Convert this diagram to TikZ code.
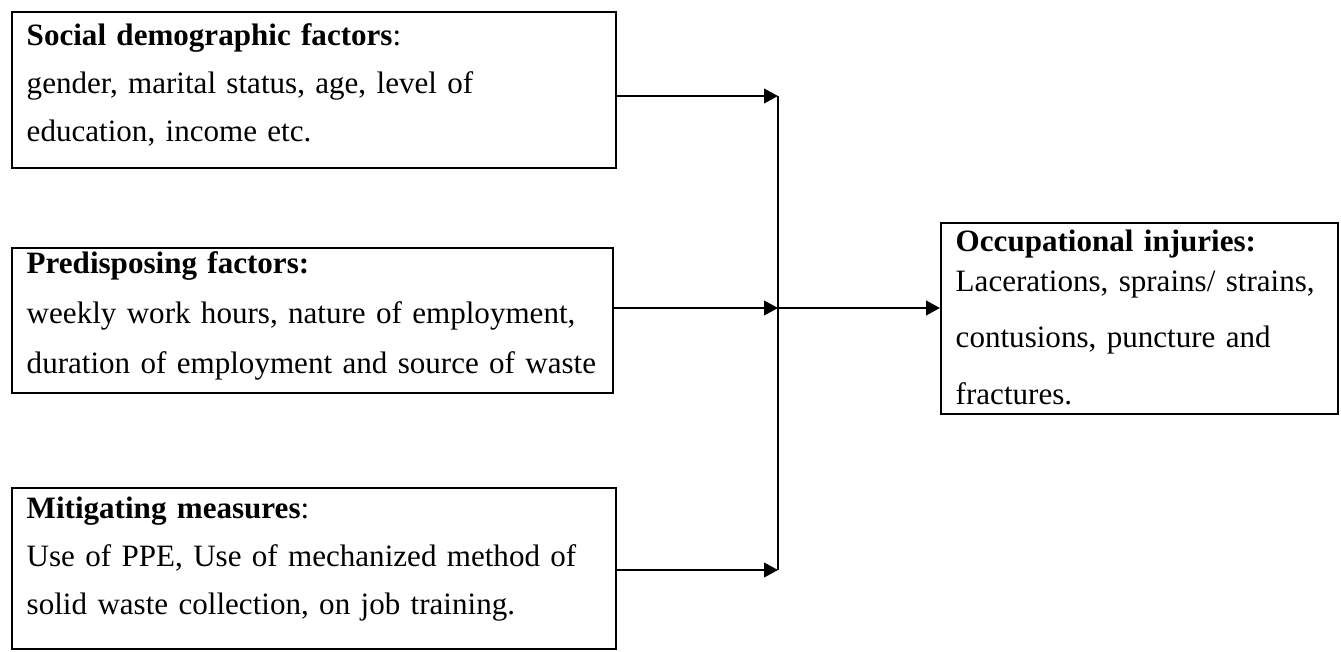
\documentclass[tikz,border=0pt]{standalone}
\usepackage{fontspec}
\setmainfont{Liberation Serif}
\usepackage{tikz}
\usetikzlibrary{arrows.meta,positioning,calc}

\tikzset{
  factorbox/.style={draw, line width=1.6pt, anchor=north west, align=left,
    inner xsep=11pt, inner ysep=0pt, font=\fontsize{23.3}{36}\selectfont},
  flowline/.style={line width=1.5pt, -{Triangle[length=10.5pt,width=11pt]}}
}

\begin{document}
\begin{tikzpicture}[x=0.75pt,y=-0.75pt]
    \useasboundingbox (0,0) rectangle (1341,652);

    % factor boxes on the left
    \node[factorbox, text width=431pt, minimum height=117pt] (social) at (11,11)
        {\rule{0pt}{24.75pt}\textbf{Social demographic factors}:\\
         gender, marital status, age, level of\\
         education, income etc.\rule[-20.25pt]{0pt}{0pt}};
    \node[factorbox, text width=428.75pt, minimum height=108.75pt,
          font=\fontsize{23.3}{37.5}\selectfont] (predisp) at (11,247)
        {\rule{0pt}{18.75pt}\textbf{Predisposing factors:}\\
         \mbox{weekly work hours, nature of employment,}\\
         \mbox{duration of employment and source of waste}\rule[-15pt]{0pt}{0pt}};
    \node[factorbox, text width=431pt, minimum height=120.75pt] (mitig) at (11,487)
        {\rule{0pt}{22.5pt}\textbf{Mitigating measures}:\\
         \mbox{Use of PPE, Use of mechanized method of}\\
         solid waste collection, on job training.\rule[-26.25pt]{0pt}{0pt}};

    % outcome box
    \node[factorbox, text width=275.75pt, minimum height=143.25pt,
          font=\fontsize{23.3}{42.375}\selectfont] (injury) at (940,222)
        {\rule{0pt}{21pt}\textbf{Occupational injuries:}\\[-12.375pt]
         \mbox{Lacerations, sprains/ strains,}\\
         contusions, puncture and\\
         fractures.\rule[-7.5pt]{0pt}{0pt}};

    % joining line
    \coordinate (hubA) at (778,96);
    \coordinate (hubB) at (778,308);
    \coordinate (hubC) at (778,570);
    \draw[line width=1.5pt] (hubA) -- (hubC);

    \draw[flowline] (social.east |- hubA) -- (hubA);
    \draw[flowline] (predisp.east |- hubB) -- (hubB);
    \draw[flowline] (mitig.east |- hubC) -- (hubC);
    \draw[flowline] (hubB) -- (injury.west |- hubB);
\end{tikzpicture}
\end{document}
